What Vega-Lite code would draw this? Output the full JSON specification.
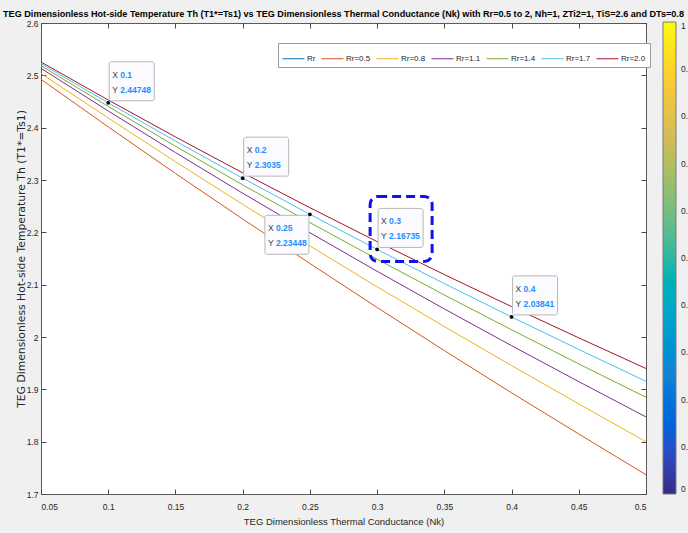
{
  "$schema": "https://vega.github.io/schema/vega-lite/v6.json",
  "width": 605,
  "height": 471,
  "autosize": {"type": "none"},
  "padding": {"left": 41, "top": 23, "right": 42, "bottom": 39},
  "background": "#F0F0F0",
  "title": {
    "text": "TEG Dimensionless Hot-side Temperature Th (T1*=Ts1) vs TEG Dimensionless Thermal Conductance (Nk) with Rr=0.5 to 2, Nh=1, ZTi2=1, TiS=2.6 and DTs=0.8",
    "anchor": "middle",
    "offset": 0,
    "font": "Liberation Sans",
    "fontSize": 9.1,
    "fontWeight": "bold",
    "color": "#000000"
  },
  "config": {
    "view": {"fill": "#FFFFFF", "stroke": "#5a5a5a", "strokeWidth": 1},
    "axis": {
      "grid": false,
      "domain": false,
      "tickColor": "#4a4a4a",
      "tickSize": -5,
      "labelFont": "Liberation Sans",
      "labelFontSize": 8.5,
      "labelColor": "#262626",
      "titleColor": "#262626",
      "titleFontWeight": "normal"
    }
  },
  "datasets": {
    "curves": [
      {"nk": 0.05, "th": 2.5254, "series": "Rr=2.0"},
      {"nk": 0.10, "th": 2.4529, "series": "Rr=2.0"},
      {"nk": 0.15, "th": 2.3823, "series": "Rr=2.0"},
      {"nk": 0.20, "th": 2.3137, "series": "Rr=2.0"},
      {"nk": 0.25, "th": 2.2471, "series": "Rr=2.0"},
      {"nk": 0.30, "th": 2.1823, "series": "Rr=2.0"},
      {"nk": 0.35, "th": 2.1193, "series": "Rr=2.0"},
      {"nk": 0.40, "th": 2.0581, "series": "Rr=2.0"},
      {"nk": 0.45, "th": 1.9983, "series": "Rr=2.0"},
      {"nk": 0.50, "th": 1.9398, "series": "Rr=2.0"},
      {"nk": 0.05, "th": 2.5224, "series": "Rr=1.7"},
      {"nk": 0.10, "th": 2.44748, "series": "Rr=1.7"},
      {"nk": 0.15, "th": 2.3745, "series": "Rr=1.7"},
      {"nk": 0.20, "th": 2.3035, "series": "Rr=1.7"},
      {"nk": 0.25, "th": 2.23448, "series": "Rr=1.7"},
      {"nk": 0.30, "th": 2.16735, "series": "Rr=1.7"},
      {"nk": 0.35, "th": 2.1020, "series": "Rr=1.7"},
      {"nk": 0.40, "th": 2.03841, "series": "Rr=1.7"},
      {"nk": 0.45, "th": 1.9762, "series": "Rr=1.7"},
      {"nk": 0.50, "th": 1.9153, "series": "Rr=1.7"},
      {"nk": 0.05, "th": 2.5184, "series": "Rr=1.4"},
      {"nk": 0.10, "th": 2.4406, "series": "Rr=1.4"},
      {"nk": 0.15, "th": 2.3646, "series": "Rr=1.4"},
      {"nk": 0.20, "th": 2.2907, "series": "Rr=1.4"},
      {"nk": 0.25, "th": 2.2187, "series": "Rr=1.4"},
      {"nk": 0.30, "th": 2.1487, "series": "Rr=1.4"},
      {"nk": 0.35, "th": 2.0803, "series": "Rr=1.4"},
      {"nk": 0.40, "th": 2.0138, "series": "Rr=1.4"},
      {"nk": 0.45, "th": 1.9486, "series": "Rr=1.4"},
      {"nk": 0.50, "th": 1.8848, "series": "Rr=1.4"},
      {"nk": 0.05, "th": 2.5134, "series": "Rr=1.1"},
      {"nk": 0.10, "th": 2.4319, "series": "Rr=1.1"},
      {"nk": 0.15, "th": 2.3524, "series": "Rr=1.1"},
      {"nk": 0.20, "th": 2.2748, "series": "Rr=1.1"},
      {"nk": 0.25, "th": 2.1993, "series": "Rr=1.1"},
      {"nk": 0.30, "th": 2.1256, "series": "Rr=1.1"},
      {"nk": 0.35, "th": 2.0536, "series": "Rr=1.1"},
      {"nk": 0.40, "th": 1.9835, "series": "Rr=1.1"},
      {"nk": 0.45, "th": 1.9147, "series": "Rr=1.1"},
      {"nk": 0.50, "th": 1.8473, "series": "Rr=1.1"},
      {"nk": 0.05, "th": 2.5034, "series": "Rr=0.8"},
      {"nk": 0.10, "th": 2.4185, "series": "Rr=0.8"},
      {"nk": 0.15, "th": 2.3350, "series": "Rr=0.8"},
      {"nk": 0.20, "th": 2.2535, "series": "Rr=0.8"},
      {"nk": 0.25, "th": 2.1740, "series": "Rr=0.8"},
      {"nk": 0.30, "th": 2.0959, "series": "Rr=0.8"},
      {"nk": 0.35, "th": 2.0200, "series": "Rr=0.8"},
      {"nk": 0.40, "th": 1.9454, "series": "Rr=0.8"},
      {"nk": 0.45, "th": 1.8722, "series": "Rr=0.8"},
      {"nk": 0.50, "th": 1.7998, "series": "Rr=0.8"},
      {"nk": 0.05, "th": 2.4924, "series": "Rr=0.5"},
      {"nk": 0.10, "th": 2.4015, "series": "Rr=0.5"},
      {"nk": 0.15, "th": 2.3125, "series": "Rr=0.5"},
      {"nk": 0.20, "th": 2.2255, "series": "Rr=0.5"},
      {"nk": 0.25, "th": 2.1405, "series": "Rr=0.5"},
      {"nk": 0.30, "th": 2.0564, "series": "Rr=0.5"},
      {"nk": 0.35, "th": 1.9740, "series": "Rr=0.5"},
      {"nk": 0.40, "th": 1.8934, "series": "Rr=0.5"},
      {"nk": 0.45, "th": 1.8147, "series": "Rr=0.5"},
      {"nk": 0.50, "th": 1.7368, "series": "Rr=0.5"}
    ],
    "tips": [
      {"nk": 0.1, "th": 2.44748},
      {"nk": 0.2, "th": 2.3035},
      {"nk": 0.25, "th": 2.23448},
      {"nk": 0.3, "th": 2.16735},
      {"nk": 0.4, "th": 2.03841}
    ],
    "bar": [{"c": 0}, {"c": 1}]
  },
  "resolve": {"axis": {"x": "independent", "y": "independent"}},
  "layer": [
    {
      "data": {"name": "curves"},
      "mark": {"type": "line", "strokeWidth": 1},
      "encoding": {
        "x": {
          "field": "nk", "type": "quantitative",
          "scale": {"domain": [0.05, 0.5], "nice": false, "zero": false},
          "axis": {
            "orient": "bottom",
            "values": [0.05, 0.1, 0.15, 0.2, 0.25, 0.3, 0.35, 0.4, 0.45, 0.5],
            "format": "~g",
            "labelPadding": 13,
            "title": "TEG Dimensionless Thermal Conductance (Nk)",
            "titleFont": "Liberation Sans",
            "titleFontSize": 9.5,
            "titlePadding": 6
          }
        },
        "y": {
          "field": "th", "type": "quantitative",
          "scale": {"domain": [1.7, 2.6], "nice": false, "zero": false},
          "axis": {
            "orient": "left",
            "values": [1.7, 1.8, 1.9, 2, 2.1, 2.2, 2.3, 2.4, 2.5, 2.6],
            "format": "~g",
            "labelPadding": 8,
            "title": "TEG Dimensionless Hot-side Temperature Th (T1*=Ts1)",
            "titleFont": "DejaVu Sans",
            "titleFontSize": 10.8,
            "titleX": -20,
            "titleBaseline": "middle"
          }
        },
        "stroke": {
          "field": "series", "type": "nominal",
          "scale": {
            "domain": ["Rr", "Rr=0.5", "Rr=0.8", "Rr=1.1", "Rr=1.4", "Rr=1.7", "Rr=2.0"],
            "range": ["#0072BD", "#D95319", "#EDB120", "#7E2F8E", "#77AC30", "#4DBEEE", "#A2142F"]
          },
          "legend": {
            "orient": "none",
            "legendX": 237,
            "legendY": 20,
            "direction": "horizontal",
            "title": null,
            "symbolType": "stroke",
            "symbolSize": 484,
            "symbolStrokeWidth": 1,
            "labelOffset": 2,
            "columnPadding": 3,
            "labelFont": "Liberation Sans",
            "labelFontSize": 8,
            "labelColor": "#262626",
            "padding": 4,
            "fillColor": "#FFFFFF",
            "strokeColor": "#9a9a9a"
          }
        }
      }
    },
    {
      "data": {"name": "tips"},
      "transform": [{"filter": "datum.nk != 0.25"}],
      "mark": {
        "type": "rect", "fill": "#FAFAFF", "stroke": "#B8B8B8", "strokeWidth": 1, "cornerRadius": 2,
        "xOffset": 1, "x2Offset": 46, "yOffset": -41, "y2Offset": -2
      },
      "encoding": {
        "x": {
          "field": "nk", "type": "quantitative",
          "axis": {
            "orient": "top", "labels": false, "title": null,
            "values": [0.05, 0.1, 0.15, 0.2, 0.25, 0.3, 0.35, 0.4, 0.45, 0.5]
          }
        },
        "x2": {"field": "nk"},
        "y": {
          "field": "th", "type": "quantitative",
          "axis": {
            "orient": "right", "labels": false, "title": null,
            "values": [1.7, 1.8, 1.9, 2, 2.1, 2.2, 2.3, 2.4, 2.5, 2.6]
          }
        },
        "y2": {"field": "th"}
      }
    },
    {
      "data": {"name": "tips"},
      "transform": [{"filter": "datum.nk == 0.25"}],
      "mark": {
        "type": "rect", "fill": "#FAFAFF", "stroke": "#B8B8B8", "strokeWidth": 1, "cornerRadius": 2,
        "xOffset": -45, "x2Offset": -1, "yOffset": 1, "y2Offset": 40
      },
      "encoding": {
        "x": {"field": "nk", "type": "quantitative", "axis": null},
        "x2": {"field": "nk"},
        "y": {"field": "th", "type": "quantitative", "axis": null},
        "y2": {"field": "th"}
      }
    },
    {
      "data": {"name": "tips"},
      "transform": [{"filter": "datum.nk == 0.3"}],
      "mark": {
        "type": "rect", "fill": null, "fillOpacity": 0, "stroke": "#1010F0", "strokeWidth": 3,
        "strokeDash": [9, 5], "cornerRadius": 8,
        "xOffset": -7, "x2Offset": 55, "yOffset": -53, "y2Offset": 12
      },
      "encoding": {
        "x": {"field": "nk", "type": "quantitative", "axis": null},
        "x2": {"field": "nk"},
        "y": {"field": "th", "type": "quantitative", "axis": null},
        "y2": {"field": "th"}
      }
    },
    {
      "data": {"name": "tips"},
      "mark": {"type": "point", "filled": true, "color": "#000000", "size": 14, "opacity": 1},
      "encoding": {
        "x": {"field": "nk", "type": "quantitative", "axis": null},
        "y": {"field": "th", "type": "quantitative", "axis": null}
      }
    },
    {
      "data": {"name": "tips"},
      "transform": [{"filter": "datum.nk != 0.25"}],
      "mark": {"type": "text", "align": "left", "baseline": "middle", "dx": 4, "dy": -28,
        "font": "Liberation Sans", "fontSize": 8.5, "color": "#404040"},
      "encoding": {
        "x": {"field": "nk", "type": "quantitative", "axis": null},
        "y": {"field": "th", "type": "quantitative", "axis": null},
        "text": {"value": "X"}
      }
    },
    {
      "data": {"name": "tips"},
      "transform": [{"filter": "datum.nk != 0.25"}],
      "mark": {"type": "text", "align": "left", "baseline": "middle", "dx": 4, "dy": -13,
        "font": "Liberation Sans", "fontSize": 8.5, "color": "#404040"},
      "encoding": {
        "x": {"field": "nk", "type": "quantitative", "axis": null},
        "y": {"field": "th", "type": "quantitative", "axis": null},
        "text": {"value": "Y"}
      }
    },
    {
      "data": {"name": "tips"},
      "transform": [{"filter": "datum.nk != 0.25"}],
      "mark": {"type": "text", "align": "left", "baseline": "middle", "dx": 12, "dy": -28,
        "font": "Liberation Sans", "fontSize": 8.5, "fontWeight": "bold", "color": "#1E8FFF"},
      "encoding": {
        "x": {"field": "nk", "type": "quantitative", "axis": null},
        "y": {"field": "th", "type": "quantitative", "axis": null},
        "text": {"field": "nk", "type": "nominal"}
      }
    },
    {
      "data": {"name": "tips"},
      "transform": [{"filter": "datum.nk != 0.25"}],
      "mark": {"type": "text", "align": "left", "baseline": "middle", "dx": 12, "dy": -13,
        "font": "Liberation Sans", "fontSize": 8.5, "fontWeight": "bold", "color": "#1E8FFF"},
      "encoding": {
        "x": {"field": "nk", "type": "quantitative", "axis": null},
        "y": {"field": "th", "type": "quantitative", "axis": null},
        "text": {"field": "th", "type": "nominal"}
      }
    },
    {
      "data": {"name": "tips"},
      "transform": [{"filter": "datum.nk == 0.25"}],
      "mark": {"type": "text", "align": "left", "baseline": "middle", "dx": -42, "dy": 14,
        "font": "Liberation Sans", "fontSize": 8.5, "color": "#404040"},
      "encoding": {
        "x": {"field": "nk", "type": "quantitative", "axis": null},
        "y": {"field": "th", "type": "quantitative", "axis": null},
        "text": {"value": "X"}
      }
    },
    {
      "data": {"name": "tips"},
      "transform": [{"filter": "datum.nk == 0.25"}],
      "mark": {"type": "text", "align": "left", "baseline": "middle", "dx": -42, "dy": 29,
        "font": "Liberation Sans", "fontSize": 8.5, "color": "#404040"},
      "encoding": {
        "x": {"field": "nk", "type": "quantitative", "axis": null},
        "y": {"field": "th", "type": "quantitative", "axis": null},
        "text": {"value": "Y"}
      }
    },
    {
      "data": {"name": "tips"},
      "transform": [{"filter": "datum.nk == 0.25"}],
      "mark": {"type": "text", "align": "left", "baseline": "middle", "dx": -34, "dy": 14,
        "font": "Liberation Sans", "fontSize": 8.5, "fontWeight": "bold", "color": "#1E8FFF"},
      "encoding": {
        "x": {"field": "nk", "type": "quantitative", "axis": null},
        "y": {"field": "th", "type": "quantitative", "axis": null},
        "text": {"field": "nk", "type": "nominal"}
      }
    },
    {
      "data": {"name": "tips"},
      "transform": [{"filter": "datum.nk == 0.25"}],
      "mark": {"type": "text", "align": "left", "baseline": "middle", "dx": -34, "dy": 29,
        "font": "Liberation Sans", "fontSize": 8.5, "fontWeight": "bold", "color": "#1E8FFF"},
      "encoding": {
        "x": {"field": "nk", "type": "quantitative", "axis": null},
        "y": {"field": "th", "type": "quantitative", "axis": null},
        "text": {"field": "th", "type": "nominal"}
      }
    },
    {
      "data": {"name": "bar"},
      "mark": {"type": "point", "opacity": 0, "filled": true},
      "encoding": {
        "x": {"datum": 0.3, "type": "quantitative", "axis": null},
        "y": {"datum": 2.0, "type": "quantitative", "axis": null},
        "fill": {
          "field": "c", "type": "quantitative",
          "scale": {
            "domain": [0, 0.125, 0.25, 0.375, 0.5, 0.625, 0.75, 0.875, 1],
            "range": ["#352A87", "#0F5CDD", "#1481D6", "#06A4CA", "#2EB7A4", "#87BF77", "#D1BB59", "#FEC832", "#F9FB0E"]
          },
          "legend": {
            "orient": "none",
            "legendX": 622,
            "legendY": -1,
            "direction": "vertical",
            "title": null,
            "gradientLength": 472,
            "gradientThickness": 13,
            "gradientStrokeColor": "#7a7a7a",
            "gradientStrokeWidth": 1,
            "values": [0, 0.1, 0.2, 0.3, 0.4, 0.5, 0.6, 0.7, 0.8, 0.9, 1],
            "format": "~g",
            "labelOffset": 5,
            "labelFont": "Liberation Sans",
            "labelFontSize": 8.5,
            "labelColor": "#262626",
            "labelOverlap": false,
            "padding": 0
          }
        }
      }
    }
  ]
}
